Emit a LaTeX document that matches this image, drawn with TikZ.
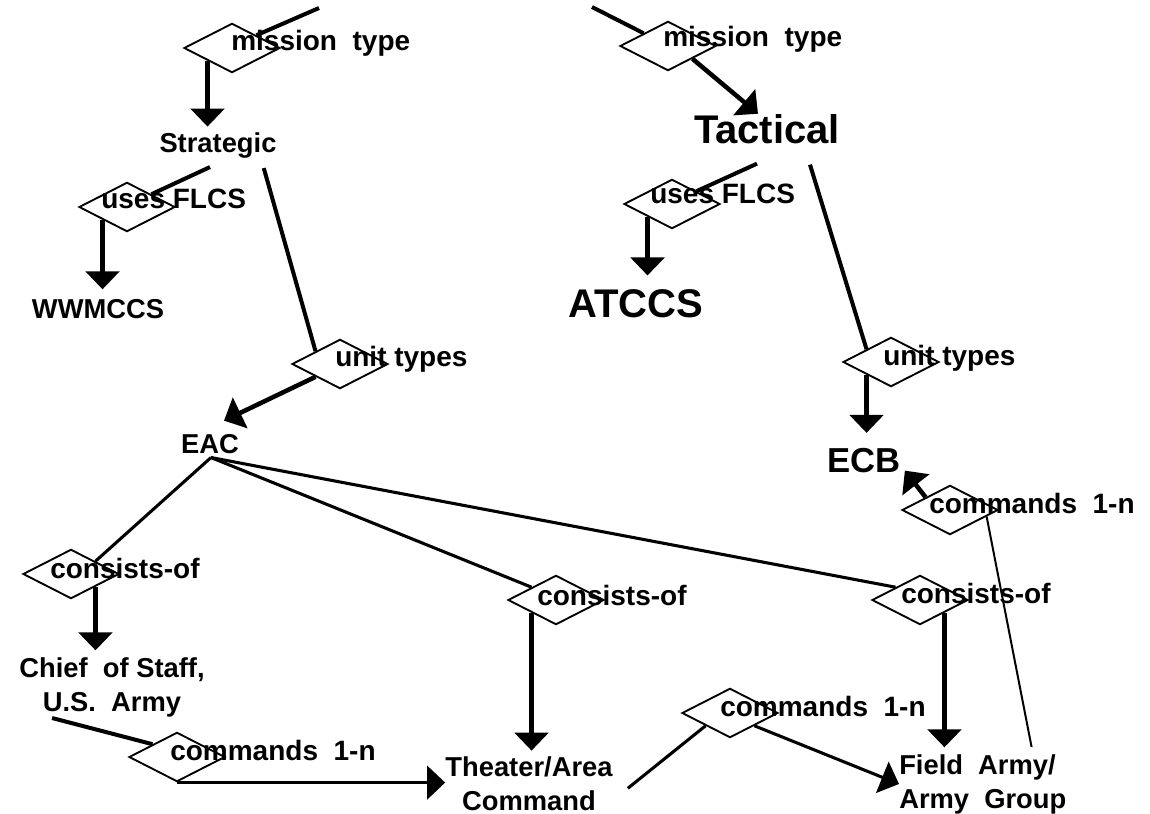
\documentclass[tikz,border=0pt]{standalone}
\usepackage{fontspec}
\setmainfont{Liberation Sans}
\usetikzlibrary{shapes.geometric,arrows.meta}

\newcommand\diafont{\fontsize{21}{25.5}\selectfont\bfseries}
\newcommand\entfont{\fontsize{20.5}{25.5}\selectfont\bfseries}
\newcommand\bigentfont{\fontsize{30}{36}\selectfont\bfseries}

\tikzset{
  relbox/.style={draw, diamond, line width=1.4pt, minimum width=72pt, minimum height=37pt, inner sep=0pt},
  rellabel/.style={anchor=mid west, inner sep=0pt, font=\diafont},
  entity/.style={inner sep=0pt, font=\entfont},
  relline/.style={line width=3pt},
  thinline/.style={line width=1.5pt},
  relarrow/.style={line width=3.4pt, -{Triangle[width=25pt,length=13.5pt]}},
}

\begin{document}
\begin{tikzpicture}[x=0.75pt,y=0.75pt,yscale=-1,xscale=1]
\useasboundingbox (0,0) rectangle (1150,814);

%Shape: Diamond
\node[relbox] (mt1) at (232,48) {};
\node[relbox] (mt2) at (668,46) {};
\node[relbox] (uf1) at (127,207) {};
\node[relbox] (uf2) at (672,204) {};
\node[relbox] (ut1) at (340,364) {};
\node[relbox] (ut2) at (891,362) {};
\node[relbox] (co1) at (71,574) {};
\node[relbox] (co2) at (556,600) {};
\node[relbox] (co3) at (920,600) {};
\node[relbox] (cm1) at (177,757) {};
\node[relbox] (cm2) at (730,713) {};
\node[relbox] (cm3) at (950,510) {};

% Text Node
\node[rellabel] (mt1l) at (231,47) {mission\ \ type};
\node[rellabel] (mt2l) at (663,43) {mission\ \ type};
\node[rellabel] (uf1l) at (101,205) {uses FLCS};
\node[rellabel] (uf2l) at (650,200) {uses FLCS};
\node[rellabel] (ut1l) at (335,363) {unit types};
\node[rellabel] (ut2l) at (883,362) {unit types};
\node[rellabel] (co1l) at (50,575) {consists-of};
\node[rellabel] (co2l) at (537,602) {consists-of};
\node[rellabel] (co3l) at (901,600) {consists-of};
\node[rellabel] (cm1l) at (170,757) {commands\ \ 1-n};
\node[rellabel] (cm2l) at (720,713) {commands\ \ 1-n};
\node[rellabel] (cm3l) at (929,510) {commands\ \ 1-n};

% Text Node
\node[entity, anchor=base] (strat) at (218,152) {Strategic};
\node[entity, anchor=base, font=\bigentfont] (tact) at (767,143) {Tactical};
\node[entity, anchor=base] (wwm) at (98,318) {WWMCCS};
\node[entity, anchor=base, font=\bigentfont] (atccs) at (636,317) {ATCCS};
\node[entity, anchor=base] (eac) at (210,453) {EAC};
\node[entity, anchor=base, font=\fontsize{26}{30}\selectfont\bfseries] (ecb) at (864,472) {ECB};
\node[entity, anchor=north, align=center] (chief) at (112,657) {Chief\ \ of Staff,\\U.S.\ \ Army};
\node[entity, anchor=north, align=center] (theater) at (529,756) {Theater/Area\\Command};
\node[entity, anchor=north west, align=left] (field) at (899,754) {Field\ \ Army/\\Army\ \ Group};

\coordinate (topL) at (319,8);
\coordinate (topR) at (592,7);

%Straight Lines
\draw[relline] (topL) -- (mt1.north east);
\draw[relarrow, shorten >=4pt] (mt1.south west) -- (mt1.south west |- strat.north);
\draw[relline] ([shift={(-8,9)}]strat.south) -- (uf1.north east);
\draw[relarrow, shorten >=7pt] (uf1.south west) -- (uf1.south west |- wwm.north);
\draw[relline] ([shift={(-13,10)}]strat.south east) -- (ut1.north west);
\draw[relarrow] (ut1.south west) -- ([shift={(14,-13)}]eac.north);
%Straight Lines
\draw[relline, line width=2.3pt] ([shift={(1,4)}]eac.south) -- (co1.north east);
\draw[relline, line width=2.3pt] ([shift={(1,4)}]eac.south) -- (co2.north west);
\draw[relline, line width=2.3pt] ([shift={(1,4)}]eac.south) -- (co3.north west);
\draw[relarrow, shorten >=5pt] (co1.south east) -- (co1.south east |- chief.north);
\draw[relarrow, shorten >=4pt] (co2.south west) -- (co2.south west |- theater.north);
\draw[relarrow, shorten >=5pt] (co3.south east) -- (co3.south east |- field.north);
%Straight Lines
\draw[relline] ([shift={(33,1)}]chief.south west) -- (cm1.north west);
\draw[relarrow, line width=2.3pt] (cm1.south) -- (cm1.south -| theater.west);
\draw[relline, line width=2.3pt] ([shift={(15,5)}]theater.east) -- (cm2.south west);
\draw[relarrow, line width=2.3pt] (cm2.south east) -- (field.west);
%Straight Lines
\draw[relline] (topR) -- (mt2.north west);
\draw[relarrow] (mt2.south east) -- ([shift={(-9,0)}]tact.north);
\draw[relline] ([shift={(-10,20)}]tact.south) -- (uf2.north east);
\draw[relarrow, shorten >=10pt] (uf2.south west) -- (uf2.south west |- atccs.north);
\draw[relline] ([shift={(43,21)}]tact.south) -- (ut2.north west);
\draw[relarrow, shorten >=11pt] (ut2.south west) -- (ut2.south west |- ecb.north);
\draw[relarrow] (cm3.north west) -- ([shift={(4,-2)}]ecb.south east);
\draw[thinline] (cm3.-10) -- ([shift={(-35,-7)}]field.north east);
\end{tikzpicture}
\end{document}
